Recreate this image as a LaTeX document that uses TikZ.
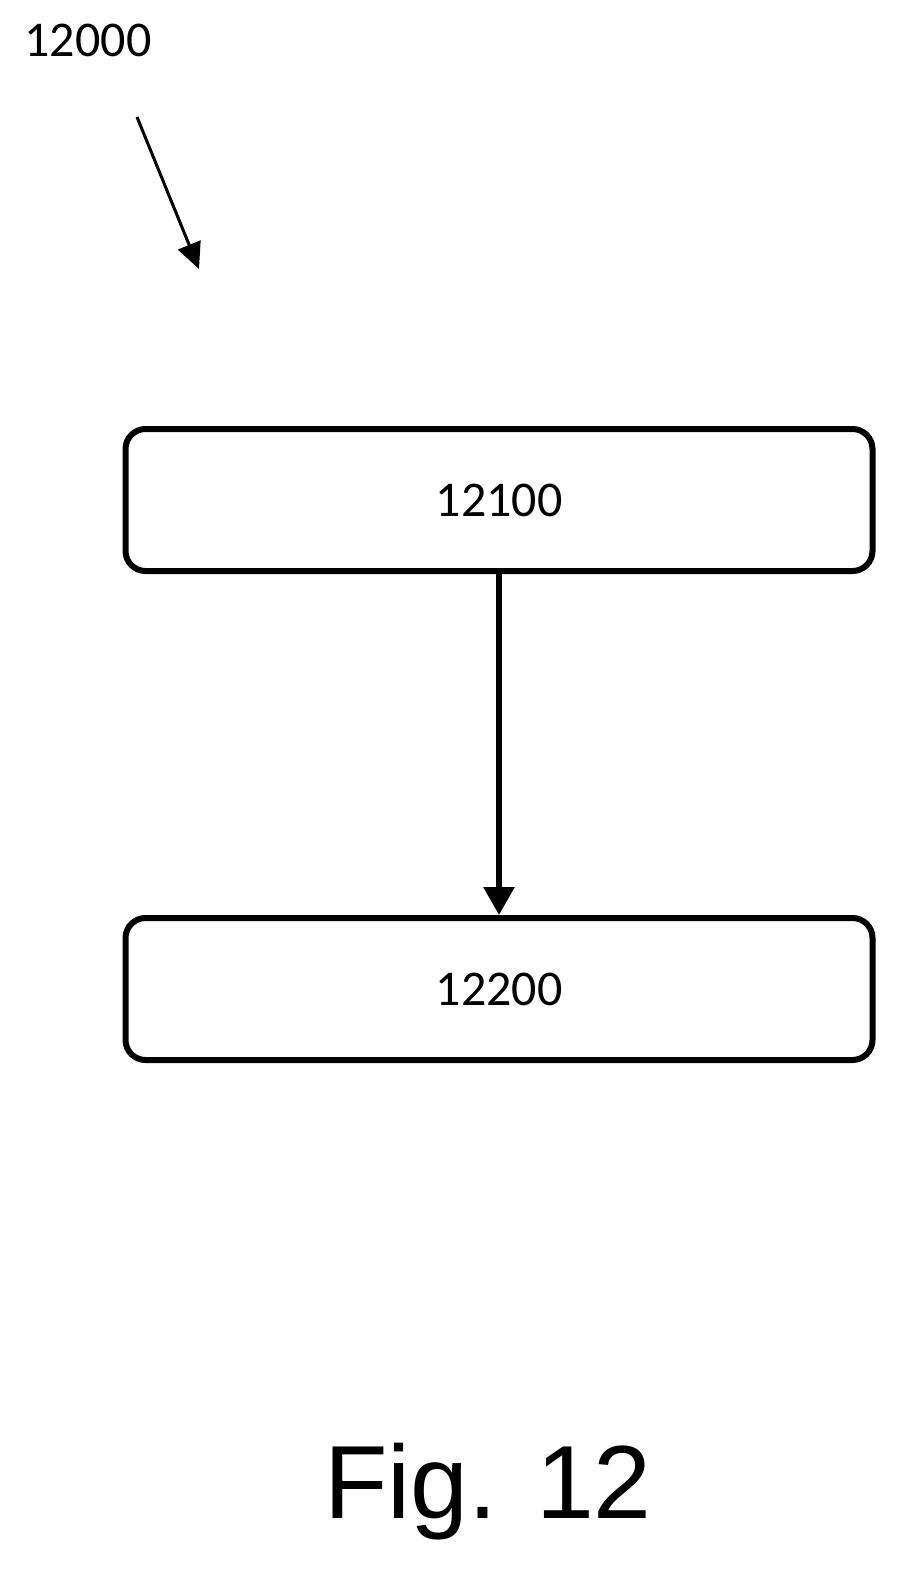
\documentclass[tikz,border=0pt]{standalone}
\usepackage{fontspec}
\setmainfont{Carlito}
\newfontfamily\figfont{Liberation Sans}
\usetikzlibrary{arrows.meta}
\begin{document}
\begin{tikzpicture}[x=1pt,y=-1pt,
  stepbox/.style={draw,line width=6pt,rounded corners=20pt,minimum width=747pt,minimum height=142pt,inner sep=0pt,font=\fontsize{50}{56}\selectfont},
  flow/.style={line width=6pt,-{Triangle[length=28pt,width=30pt]}}]
\useasboundingbox (0,0) rectangle (903,1576);
\node[stepbox] (a) at (499,500) {12100};
\node[stepbox] (b) at (499,989) {12200};
\draw[flow] (a.south) -- (b.north);
\node[font=\fontsize{50}{56}\selectfont] (lbl) at (88,40) {12000};
\coordinate (p1) at (137,117);
\coordinate (p2) at (199,269);
\draw[line width=3pt,-{Triangle[length=26pt,width=24pt]}] (p1) -- (p2);
\node[font=\figfont\fontsize{104}{110}\selectfont] (fig) at (488,1492) {Fig. 12};
\end{tikzpicture}
\end{document}
